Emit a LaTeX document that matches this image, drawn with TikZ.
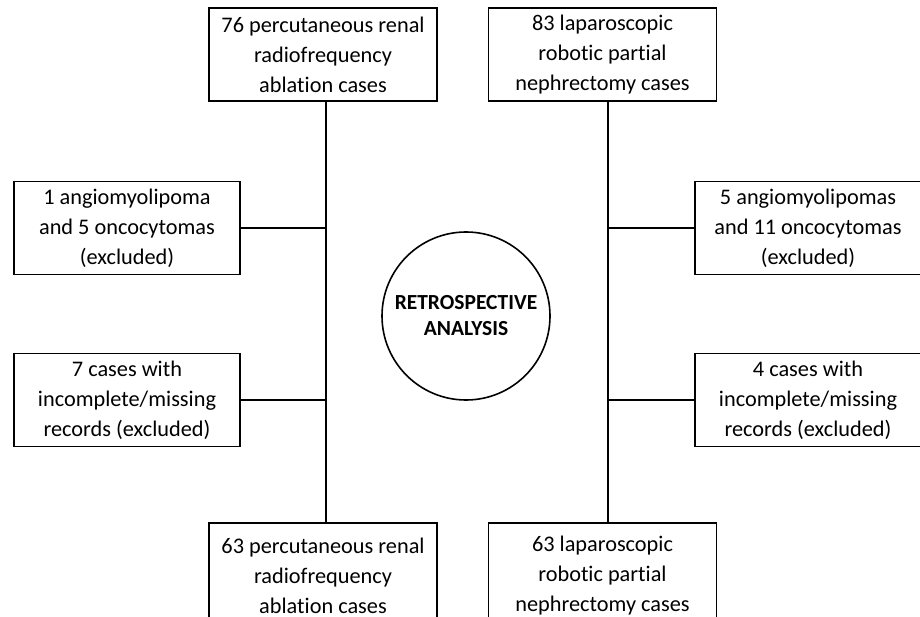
\documentclass[tikz,border=0pt]{standalone}
\usepackage{fontspec}
\setmainfont{Carlito}[Ligatures=NoCommon]
\begin{document}
\begin{tikzpicture}[x=1pt,y=-1pt,
  box/.style={draw,line width=1.6pt,rectangle,minimum width=228pt,minimum height=93pt,
    inner sep=0pt,align=center,font=\fontsize{22.3}{30}\selectfont},
  conn/.style={line width=1.6pt}]
\useasboundingbox (0,0) rectangle (920,617);
\clip (0,0) rectangle (920,617);
\coordinate (lx) at (326,0);
\coordinate (rx) at (608,0);
\node[box] (tl) at (323,54.5) {76 percutaneous renal\\radiofrequency\\ablation cases};
\node[box] (tr) at (602.5,54.5) {83 laparoscopic\\robotic partial\\nephrectomy cases};
\node[box,minimum width=226pt] (ml1) at (127,228) {1 angiomyolipoma\\and 5 oncocytomas\\(excluded)};
\node[box,minimum width=226pt] (ml2) at (127,400) {7 cases with\\incomplete/missing\\records (excluded)};
\node[box,minimum width=226pt] (mr1) at (808,228) {5 angiomyolipomas\\and 11 oncocytomas\\(excluded)};
\node[box,minimum width=226pt] (mr2) at (808,400) {4 cases with\\incomplete/missing\\records (excluded)};
\node[box,minimum height=106pt] (bl) at (323,576) {63 percutaneous renal\\radiofrequency\\ablation cases};
\node[box,minimum height=106pt] (br) at (602.5,576) {63 laparoscopic\\robotic partial\\nephrectomy cases};
\node[draw,circle,line width=1.6pt,minimum size=168pt,inner sep=0pt,align=center,
  font=\fontsize{21.5}{26}\selectfont\bfseries] (c) at (466,316) {RETROSPECTIVE\\ANALYSIS};
\draw[conn] (tl.south -| lx) -- (bl.north -| lx);
\draw[conn] (tr.south -| rx) -- (br.north -| rx);
\draw[conn] (ml1.east) -- (ml1.east -| lx);
\draw[conn] (ml2.east) -- (ml2.east -| lx);
\draw[conn] (mr1.west) -- (mr1.west -| rx);
\draw[conn] (mr2.west) -- (mr2.west -| rx);
\end{tikzpicture}
\end{document}
